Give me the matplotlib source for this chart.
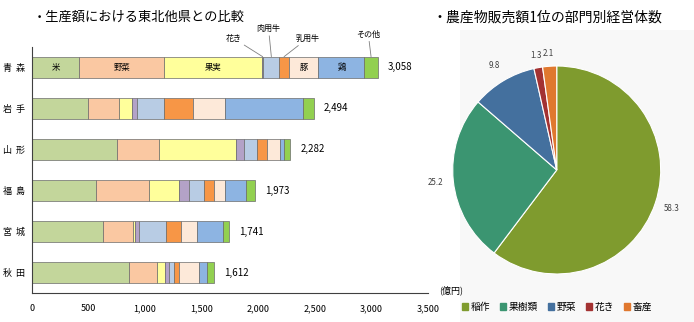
import numpy as np
import matplotlib
matplotlib.use("Agg")
import matplotlib.pyplot as plt
from matplotlib.patches import Rectangle

plt.rcParams['font.family'] = ['Noto Sans CJK JP', 'DejaVu Sans']

# 生産額（億円）
prefs = ['青森', '岩手', '山形', '福島', '宮城', '秋田']
items = ['米', '野菜', '果実', '花き', '肉用牛', '乳用牛', '豚', '鶏', 'その他']
totals = [3058, 2494, 2282, 1973, 1741, 1612]
values = [
    [418, 752, 864, 12, 142, 83, 262, 407, 118],
    [498, 274, 115, 39, 242, 253, 289, 690, 94],
    [749, 377, 676, 76, 110, 88, 118, 38, 50],
    [563, 475, 265, 83, 133, 88, 103, 183, 80],
    [625, 271, 15, 35, 237, 138, 141, 225, 54],
    [855, 254, 65, 35, 47, 41, 177, 77, 61],
]
item_colors = ['#c3d69b', '#fac8a2', '#ffff9b', '#b3a2c7', '#b8cce4',
               '#f79646', '#fde9d9', '#8db4e2', '#92d050']

# 農産物販売額1位の部門別経営体数（%）
sectors = ['稲作', '果樹類', '野菜', '花き', '畜産']
shares = [58.3, 25.2, 9.8, 1.3, 2.1]
sector_colors = ['#7f9b2e', '#3b9571', '#44709e', '#a33232', '#e0782f']

fig = plt.figure(figsize=(6.94, 3.22), dpi=100)

# light panel behind the pie
fig.patches.append(Rectangle((460 / 694, 0), 1, 1 - 30 / 322, transform=fig.transFigure,
                             facecolor='#f8f8f8', edgecolor='none', zorder=-1))

# ---- stacked bars ----
ax = fig.add_axes([32 / 694, 29 / 322, 395.7 / 694, 246 / 322])
vals = np.array(values)
y = np.arange(len(prefs))
left = np.zeros(len(prefs))
for j, item in enumerate(items):
    ax.barh(y, vals[:, j], left=left, height=0.51, color=item_colors[j],
            edgecolor='#6b6b6b', linewidth=0.5)
    left += vals[:, j]

for i, t in enumerate(totals):
    ax.text(t + 90, y[i], '{:,}'.format(t), va='center', ha='left', fontsize=7)

# item names inside the 青森 bar
starts = np.concatenate([[0], np.cumsum(vals[0])[:-1]])
for j in [0, 1, 2, 6, 7]:
    ax.text(starts[j] + vals[0, j] / 2, 0, items[j], ha='center', va='center', fontsize=6)

# callouts for the narrow segments
callouts = {3: (-21, 10), 4: (-2, 17), 5: (17, 10), 8: (-2, 13)}
for j, off in callouts.items():
    ax.annotate(items[j], xy=(starts[j] + vals[0, j] / 2, -0.255), xytext=off,
                textcoords='offset points', ha='center', va='bottom', fontsize=5.8,
                arrowprops=dict(arrowstyle='-', color='#7f7f7f', lw=0.6,
                                shrinkA=0, shrinkB=0))

ax.set_xlim(0, 3500)
ax.set_ylim(len(prefs) - 0.51, -0.49)
ax.set_yticks(y)
ax.set_yticklabels(['  '.join(p) for p in prefs], fontsize=6.5)
ax.set_xticks(np.arange(0, 3501, 500))
ax.set_xticklabels(['{:,}'.format(v) for v in range(0, 3501, 500)], fontsize=6.5)
ax.tick_params(axis='both', length=0)
ax.tick_params(axis='y', pad=5)
ax.tick_params(axis='x', pad=8)
for s in ['top', 'right']:
    ax.spines[s].set_visible(False)
for s in ['left', 'bottom']:
    ax.spines[s].set_color('#404040')
    ax.spines[s].set_linewidth(0.8)
ax.text(1.03, 0.01, '(億円)', transform=ax.transAxes, fontsize=6.5, va='center')
fig.text(33 / 694, 1 - 17 / 322, '・生産額における東北他県との比較', fontsize=9.5, va='center')

# ---- pie ----
pax = fig.add_axes([0.6149, 0.0683, 0.3746, 0.8075])
pax.pie(shares, colors=sector_colors, startangle=90, counterclock=False,
        wedgeprops=dict(edgecolor='white', linewidth=0.8))
pax.set_xlim(-1.25, 1.25)
pax.set_ylim(-1.25, 1.25)
pax.set_aspect('equal')

total = sum(shares)
cum = np.cumsum([0] + shares)
for k, v in enumerate(shares):
    mid = 90 - (cum[k] + v / 2) / total * 360
    a = np.deg2rad(mid)
    r = 1.17 if v > 5 else 1.12
    pax.text(r * np.cos(a), r * np.sin(a), '{:.1f}'.format(v), ha='center', va='center',
             fontsize=5.8, color='#404040')

handles = [Rectangle((0, 0), 1, 1, color=c) for c in sector_colors]
fig.legend(handles, sectors, loc='center', bbox_to_anchor=(557 / 694, 1 - 307 / 322),
           ncol=5, frameon=False, fontsize=7, handlelength=0.6, handleheight=0.6,
           handletextpad=0.3, columnspacing=1.0)
fig.text(432 / 694, 1 - 18 / 322, '・農産物販売額1位の部門別経営体数', fontsize=10, va='center')

fig.savefig('out.png', dpi=100)
